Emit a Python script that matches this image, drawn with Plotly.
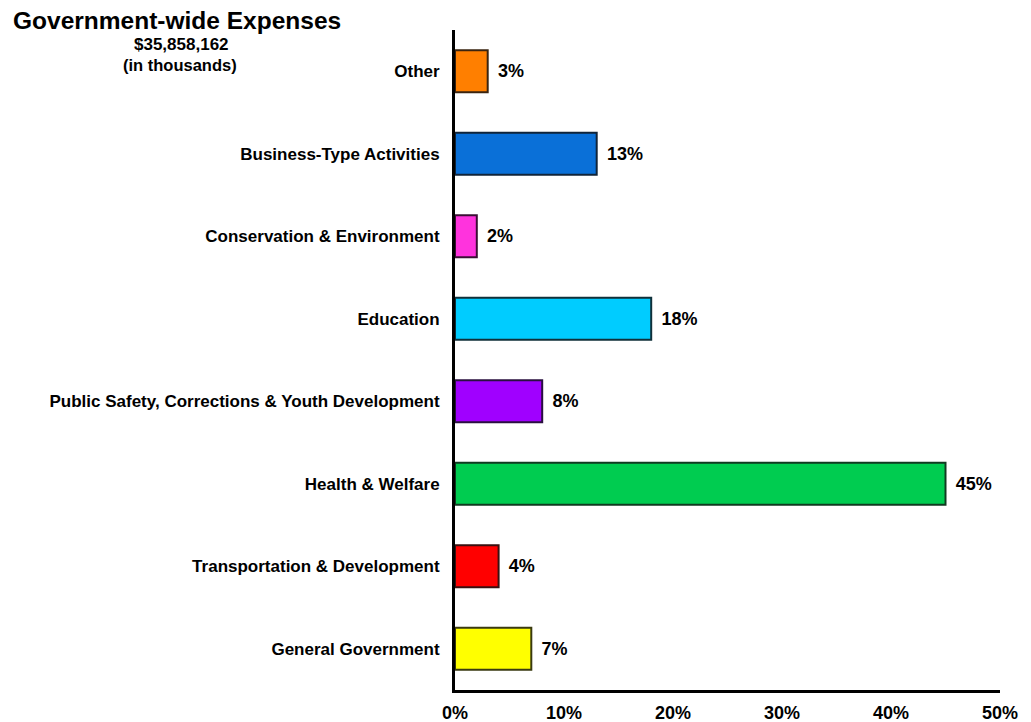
import plotly.graph_objects as go

categories = ["General Government", "Transportation & Development", "Health & Welfare",
              "Public Safety, Corrections & Youth Development", "Education",
              "Conservation & Environment", "Business-Type Activities", "Other"]
values = [7, 4, 45, 8, 18, 2, 13, 3]
labels = ["7%", "4%", "45%", "8%", "18%", "2%", "13%", "3%"]
colors = ["#FFFF00", "#FF0000", "#00CC50", "#A000FF", "#00CCFF", "#FF33DD", "#0A70D8", "#FF7F00"]
outlines = ["#3A3A10", "#3A1010", "#103A20", "#2A1040", "#10303A", "#3A1034", "#10243A", "#3A2410"]
tick_vals = [0, 10, 20, 30, 40, 50]
tick_text = ["0%", "10%", "20%", "30%", "40%", "50%"]

FONT = "Liberation Sans"

fig = go.Figure(go.Bar(
    x=values, y=categories, orientation="h",
    marker=dict(color=colors, line=dict(color=outlines, width=2)),
    text=labels, texttemplate="\u2009\u2009%{text}", textposition="outside", cliponaxis=False,
    textfont=dict(family=FONT, size=18, color="black", weight="bold"),
))

# plot area in figure pixels: x 447..992, y 22..682 (page body adds 8px offset)
PW, PH = 545.0, 660.0
L, T = 447.0, 22.0

def px(x):
    return (x - L) / PW

def py(y):
    return 1 - (y - T) / PH

fig.update_layout(
    width=1031, height=722,
    margin=dict(l=447, r=39, t=22, b=40, autoexpand=False),
    paper_bgcolor="white", plot_bgcolor="white",
    bargap=0.49, showlegend=False,
    font=dict(family=FONT, color="black"),
)
fig.add_annotation(text="<b>Government-wide Expenses</b>", xref="paper", yref="paper",
                   x=px(4), y=py(12), xanchor="left", yanchor="middle", borderpad=0,
                   showarrow=False, font=dict(size=24.5, family=FONT, color="black"))
fig.add_annotation(text="<b>$35,858,162</b>", xref="paper", yref="paper",
                   x=px(173), y=py(36), xanchor="center", yanchor="middle", borderpad=0,
                   showarrow=False, font=dict(size=17, family=FONT, color="black"))
fig.add_annotation(text="<b>(in thousands)</b>", xref="paper", yref="paper",
                   x=px(172), y=py(57), xanchor="center", yanchor="middle", borderpad=0,
                   showarrow=False, font=dict(size=16.5, family=FONT, color="black"))

fig.update_xaxes(range=[0, 50], tickvals=tick_vals, ticktext=tick_text, showgrid=False,
                 zeroline=False, showline=True, linecolor="black", linewidth=3,
                 ticks="", ticklabelstandoff=4, automargin=False,
                 tickfont=dict(size=18, family=FONT, weight="bold", color="black"))
fig.update_yaxes(showgrid=False, zeroline=False, showline=True, linecolor="black", linewidth=3,
                 ticks="", ticklabelstandoff=9, automargin=False,
                 tickfont=dict(size=17, family=FONT, weight="bold", color="black"))

fig.write_html("out.html")
